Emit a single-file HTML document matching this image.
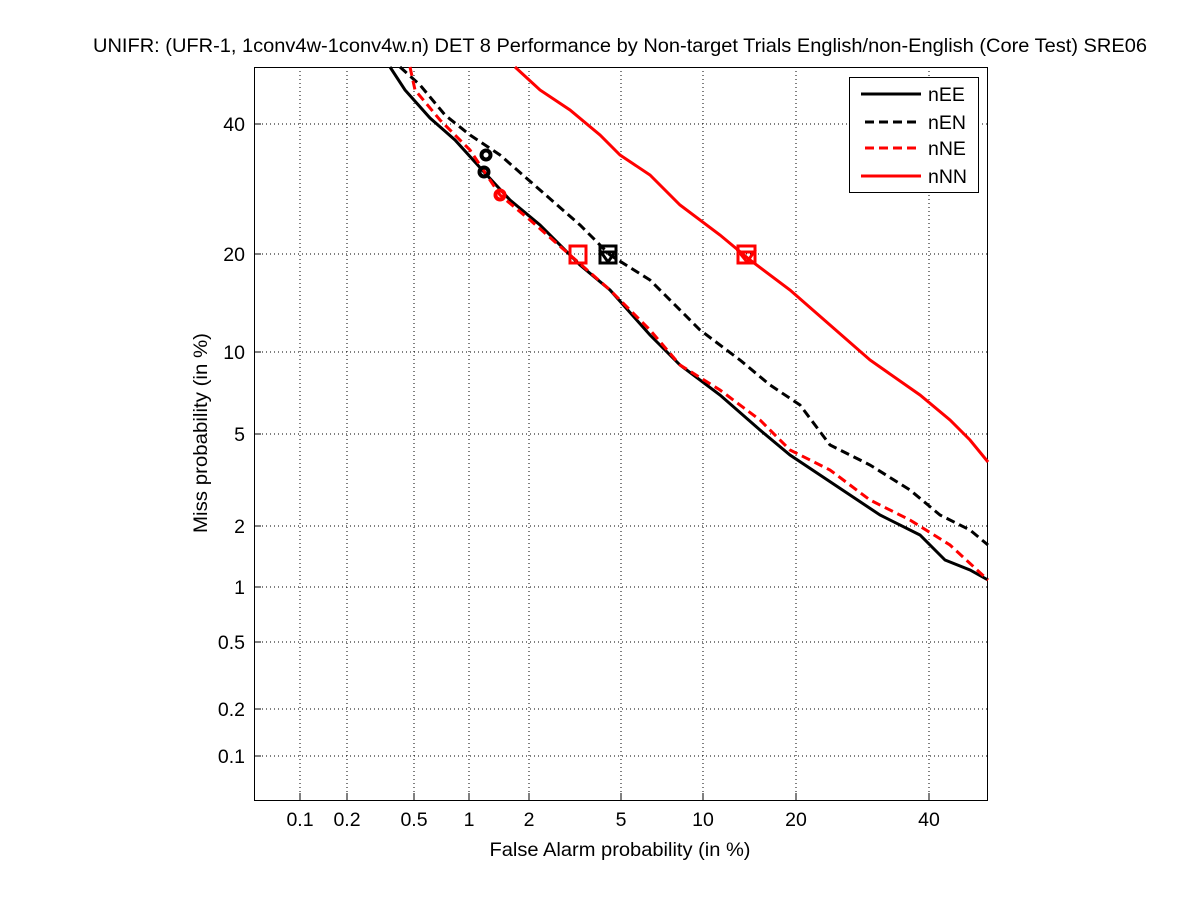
<!DOCTYPE html><html><head><style>body{margin:0;background:#fff}svg{display:block}text{font-family:"Liberation Sans",sans-serif;font-size:19.5px}</style></head><body>
<svg width="1201" height="900" xmlns="http://www.w3.org/2000/svg">
<rect width="1201" height="900" fill="#fff"/>
<g stroke="#000" stroke-width="1" stroke-dasharray="1,3">
<line x1="300" y1="67" x2="300" y2="800"/><line x1="347" y1="67" x2="347" y2="800"/><line x1="414" y1="67" x2="414" y2="800"/><line x1="469" y1="67" x2="469" y2="800"/><line x1="529" y1="67" x2="529" y2="800"/><line x1="621" y1="67" x2="621" y2="800"/><line x1="703" y1="67" x2="703" y2="800"/><line x1="796" y1="67" x2="796" y2="800"/><line x1="929" y1="67" x2="929" y2="800"/>
<line x1="254" y1="124" x2="988" y2="124"/><line x1="254" y1="254" x2="988" y2="254"/><line x1="254" y1="352" x2="988" y2="352"/><line x1="254" y1="434" x2="988" y2="434"/><line x1="254" y1="526" x2="988" y2="526"/><line x1="254" y1="587" x2="988" y2="587"/><line x1="254" y1="642" x2="988" y2="642"/><line x1="254" y1="709" x2="988" y2="709"/><line x1="254" y1="756" x2="988" y2="756"/>
</g>
<rect x="254.5" y="67.5" width="733" height="733" fill="none" stroke="#000"/>
<g stroke="#000"><path d="M300 800v-7M347 800v-7M414 800v-7M469 800v-7M529 800v-7M621 800v-7M703 800v-7M796 800v-7M929 800v-7M254 124h7M254 254h7M254 352h7M254 434h7M254 526h7M254 587h7M254 642h7M254 709h7M254 756h7"/></g>
<g text-anchor="middle"><text x="300" y="826">0.1</text><text x="347" y="826">0.2</text><text x="414" y="826">0.5</text><text x="469" y="826">1</text><text x="529" y="826">2</text><text x="621" y="826">5</text><text x="703" y="826">10</text><text x="796" y="826">20</text><text x="929" y="826">40</text>
<text x="620" y="856" textLength="261" lengthAdjust="spacingAndGlyphs">False Alarm probability (in %)</text></g>
<text x="93" y="52" textLength="1054" lengthAdjust="spacingAndGlyphs">UNIFR: (UFR-1, 1conv4w-1conv4w.n) DET 8 Performance by Non-target Trials English/non-English (Core Test) SRE06</text>
<g text-anchor="end"><text x="245" y="131">40</text><text x="245" y="261">20</text><text x="245" y="359">10</text><text x="245" y="441">5</text><text x="245" y="533">2</text><text x="245" y="594">1</text><text x="245" y="649">0.5</text><text x="245" y="716">0.2</text><text x="245" y="763">0.1</text></g>
<text transform="translate(207,433) rotate(-90)" text-anchor="middle" textLength="200" lengthAdjust="spacingAndGlyphs">Miss probability (in %)</text>
<g fill="none" stroke-width="3">
<polyline stroke="#000" points="390,67 405,90 430,118 455,140 484,172 510,200 540,225 580,265 610,290 650,335 680,365 720,395 760,430 790,455 820,475 850,495 880,515 920,535 945,560 970,570 988,580"/>
<polyline stroke="#000" stroke-dasharray="9,5" points="400,67 420,85 445,115 470,135 500,155 540,190 580,225 610,255 650,280 700,330 740,360 770,385 800,405 830,445 870,465 910,490 940,515 970,530 988,545"/>
<polyline stroke="#f00" stroke-dasharray="9,5" points="410,67 415,90 440,120 470,150 500,195 530,220 570,255 610,290 650,330 680,365 720,390 760,420 790,450 830,470 870,500 910,520 950,545 988,580"/>
<polyline stroke="#f00" points="515,67 540,90 570,110 600,135 620,155 650,175 680,205 720,235 750,260 790,290 830,325 870,360 920,395 950,420 970,440 988,462"/>
<circle cx="486" cy="155" r="4.5" stroke="#000" stroke-width="4"/><circle cx="484" cy="172" r="4.5" stroke="#000" stroke-width="4"/><circle cx="500" cy="195" r="4.5" stroke="#f00" stroke-width="4"/>
<rect x="570" y="246" width="16" height="17" stroke="#f00"/><rect x="600" y="246" width="16" height="17" stroke="#000"/><rect x="738" y="246" width="17" height="17" stroke="#f00"/>
<path d="M601 252h14l-7 10z" stroke="#000"/><path d="M739 252h15l-7 10z" stroke="#f00"/>
</g>
<rect x="849.5" y="77.5" width="129" height="115" fill="#fff" stroke="#000"/>
<g stroke-width="3"><line x1="861" y1="94" x2="921" y2="94" stroke="#000"/><line x1="865" y1="122" x2="921" y2="122" stroke="#000" stroke-dasharray="9,5"/><line x1="865" y1="148" x2="921" y2="148" stroke="#f00" stroke-dasharray="9,5"/><line x1="861" y1="176" x2="921" y2="176" stroke="#f00"/></g>
<text x="928" y="101">nEE</text><text x="928" y="129">nEN</text><text x="928" y="155">nNE</text><text x="928" y="183">nNN</text>
</svg></body></html>
